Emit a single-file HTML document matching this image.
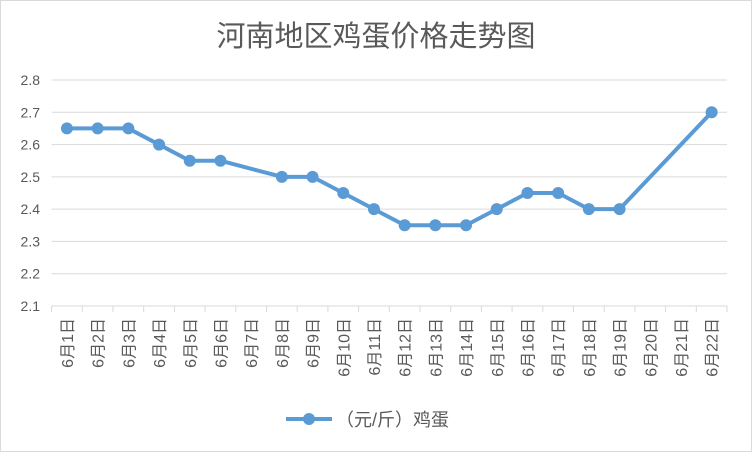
<!DOCTYPE html>
<html><head><meta charset="utf-8"><style>
body{margin:0;background:#fff}
svg text{font-family:"Liberation Sans","Noto Sans CJK SC",sans-serif}
</style></head><body>
<svg width="752" height="452">
<rect x="0.5" y="0.5" width="751" height="451" fill="#fff" stroke="#d9d9d9"/>
<text x="376" y="46" text-anchor="middle" font-size="29" fill="#595959">河南地区鸡蛋价格走势图</text>
<g id="grid"></g><g id="xaxis"></g><g id="series"></g>
<g>
<line x1="286" y1="419" x2="332" y2="419" stroke="#5b9bd5" stroke-width="4"/>
<circle cx="309" cy="419" r="6" fill="#5b9bd5"/>
<text x="336" y="426" font-size="18" fill="#595959">（元/斤）鸡蛋</text>
</g>
</svg>
<script>
const categories=["6月1日","6月2日","6月3日","6月4日","6月5日","6月6日","6月7日","6月8日","6月9日","6月10日","6月11日","6月12日","6月13日","6月14日","6月15日","6月16日","6月17日","6月18日","6月19日","6月20日","6月21日","6月22日"];
const prices=[2.65,2.65,2.65,2.6,2.55,2.55,null,2.5,2.5,2.45,2.4,2.35,2.35,2.35,2.4,2.45,2.45,2.4,2.4,null,null,2.7];
const yTicks=[2.1,2.2,2.3,2.4,2.5,2.6,2.7,2.8];
const NS="http://www.w3.org/2000/svg";
const L=51.6,R=727,T=80,B=306,ymin=2.1,ymax=2.8;
const bw=(R-L)/categories.length;
const xs=i=>L+bw*(i+0.5);
const ys=v=>B-(v-ymin)/(ymax-ymin)*(B-T);
function mk(t,a,p){const e=document.createElementNS(NS,t);for(const k in a)e.setAttribute(k,a[k]);p.appendChild(e);return e;}
const g=document.getElementById('grid');
yTicks.forEach(v=>{
 const ln=mk('line',{x1:L,x2:R,y1:ys(v),y2:ys(v),stroke:'#d9d9d9','stroke-width':1},g);
 
 
 const t=mk('text',{x:40,y:ys(v)+5,'text-anchor':'end','font-size':14,fill:'#595959'},g);
 t.textContent=v.toFixed(1);
 
 
});
const xa=document.getElementById('xaxis');
for(let i=0;i<=categories.length;i++){
 const tk=mk('line',{x1:L+bw*i,x2:L+bw*i,y1:B,y2:B+6,stroke:'#d9d9d9'},xa);
 
 
}
categories.forEach((c,i)=>{
 const t=mk('text',{x:0,y:0,'text-anchor':'end','font-size':16,fill:'#595959',transform:`translate(${xs(i)+6},318) rotate(-90)`},xa);
 t.textContent=c;
 
 
});
const s=document.getElementById('series');
const pts=[];prices.forEach((v,i)=>{if(v!=null)pts.push([xs(i),ys(v)]);});
const pl=mk('polyline',{points:pts.map(p=>p.join(',')).join(' '),fill:'none',stroke:'#5b9bd5','stroke-width':4,'stroke-linejoin':'round'},s);


prices.forEach((v,i)=>{if(v==null)return;
 const c=mk('circle',{cx:xs(i),cy:ys(v),r:6,fill:'#5b9bd5'},s);
 
 
});
</script>
</body></html>
